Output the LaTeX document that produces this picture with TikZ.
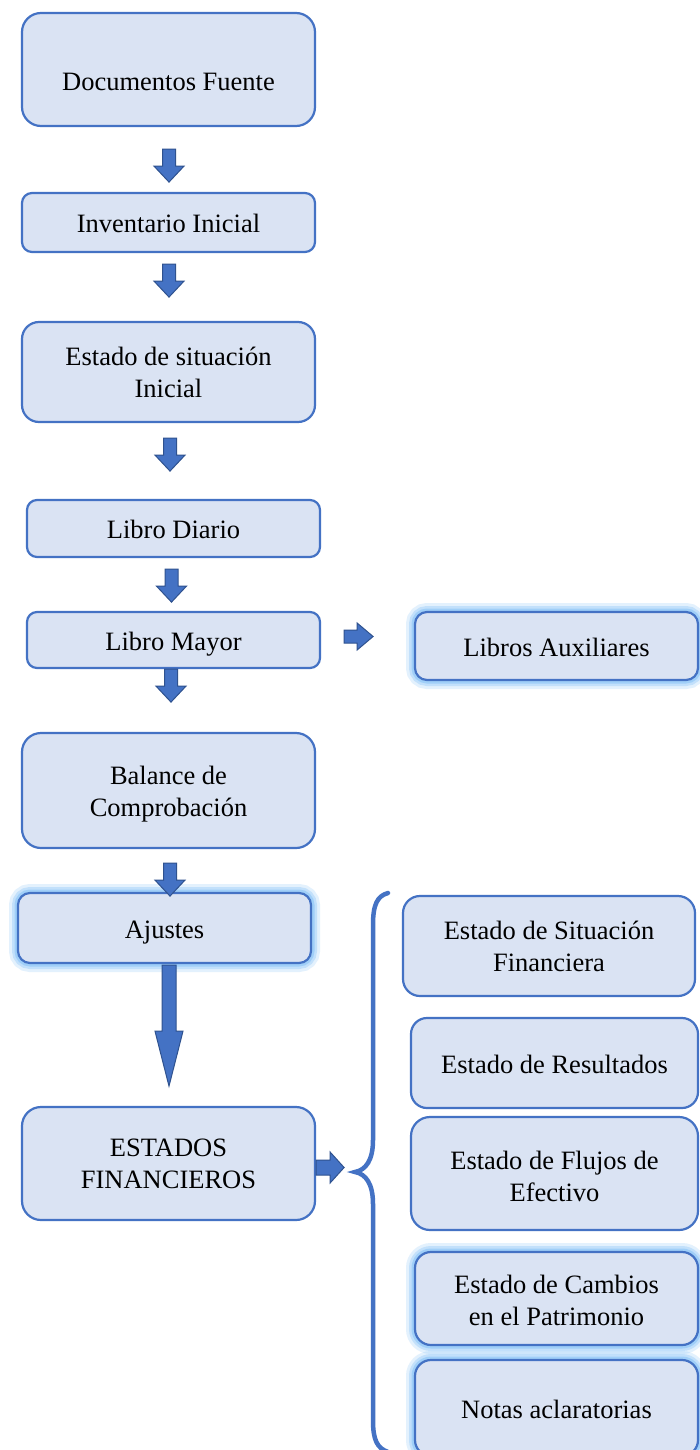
\documentclass[tikz,border=0pt]{standalone}
\usepackage{fontspec}
\setmainfont{Liberation Serif}
\usetikzlibrary{calc}
\definecolor{bblue}{HTML}{4472C4}
\definecolor{bfill}{HTML}{DAE3F3}
\definecolor{bdark}{HTML}{2F528F}
\definecolor{glowc}{HTML}{92C8F8}
\tikzset{
  flowbox/.style={draw=bblue, fill=bfill, line width=2.2pt, rounded corners=#1,
    align=center, inner sep=2pt, font=\fontsize{26.5}{32}\selectfont, text=black},
  flowbox/.default=12pt,
  oneline/.style={text height=20pt, text depth=0pt},
  glow/.style={
    preaction={draw=glowc, draw opacity=0.25, line width=18pt},
    preaction={draw=glowc, draw opacity=0.4, line width=12pt},
    preaction={draw=glowc, draw opacity=0.7, line width=7pt}},
  barrow/.style={fill=bblue, draw=bdark, line width=1pt, line join=miter},
  pics/sdown/.style={code={
    \draw[barrow] (-6.5,0) -- (6.5,0) -- (6.5,17) -- (15,17) -- (0,33) -- (-15,17) -- (-6.5,17) -- cycle;}},
  brace/.style={draw=bblue, line width=4.5pt, line cap=round},
}
\begin{document}
\begin{tikzpicture}[x=1pt, y=-1pt]
\fill[white] (0,0) rectangle (699,1450);
\useasboundingbox (0,0) rectangle (699,1450);

% left column
\node[flowbox=19pt, minimum width=293pt, minimum height=113pt, text height=42pt, text depth=0pt] (df) at (168.5,69.5) {Documentos Fuente};
\node[flowbox=10pt, oneline, minimum width=293pt, minimum height=59pt] (ii) at (168.5,222.5) {Inventario Inicial};
\node[flowbox=17pt, minimum width=293pt, minimum height=100pt] (es) at (168.5,372) {Estado de situación\\Inicial};
\node[flowbox=10pt, oneline, minimum width=293pt, minimum height=57pt] (ld) at (173.5,528.5) {Libro Diario};
\node[flowbox=10pt, oneline, minimum width=293pt, minimum height=56pt] (lm) at (173.5,640) {Libro Mayor};
\node[flowbox=12pt, oneline, glow, minimum width=283pt, minimum height=68pt] (la) at (556.5,646) {Libros Auxiliares};
\node[flowbox=19pt, minimum width=293pt, minimum height=115pt] (bc) at (168.5,790.5) {\rule{0pt}{26.5pt}Balance de\\Comprobación};
\node[flowbox=12pt, oneline, glow, minimum width=293pt, minimum height=70pt] (aj) at (164.5,928) {Ajustes};
\node[flowbox=19pt, minimum width=293pt, minimum height=113pt] (ef) at (168.5,1163.5) {ESTADOS\\FINANCIEROS};

% right column
\node[flowbox=17pt, minimum width=292pt, minimum height=100pt] (sf) at (549,946) {Estado de Situación\\Financiera};
\node[flowbox=16pt, oneline, minimum width=287pt, minimum height=90pt] (er) at (554.5,1063) {Estado de Resultados};
\node[flowbox=19pt, minimum width=287pt, minimum height=113pt] (fe) at (554.5,1173.5) {\rule{0pt}{24.5pt}Estado de Flujos de\\Efectivo};
\node[flowbox=16pt, glow, minimum width=283pt, minimum height=93pt] (cp) at (556.5,1298.5) {\rule{0pt}{22.5pt}Estado de Cambios\\en el Patrimonio};
\node[flowbox=16pt, oneline, glow, minimum width=283pt, minimum height=96pt] (na) at (556.5,1408) {Notas aclaratorias};

% down block arrows
\pic at ($(df.south)+(0.5,22)$) {sdown};
\pic at ($(ii.south)+(0.5,11)$) {sdown};
\pic at ($(es.south)+(1.5,15)$) {sdown};
\pic at ($(ld.south)+(-2,11)$) {sdown};
\pic at ($(lm.south)+(-2.5,0)$) {sdown};
\pic at ($(bc.south)+(1.5,14)$) {sdown};

% big arrow Ajustes -> Estados Financieros
\coordinate (bt) at ($(aj.south)+(4.5,1)$);
\draw[barrow] (bt) ++(-7,0) -- ++(14,0) -- ++(0,66) -- ++(7,0) -- ++(-14,55) -- ++(-14,-55) -- ++(7,0) -- cycle;

% right block arrows
\coordinate (r1) at ($(lm.east)+(23,-3.5)$);
\draw[barrow] (r1) ++(0,-6.5) -- ++(13,0) -- ++(0,-7) -- ++(16,13.5) -- ++(-16,13.5) -- ++(0,-7) -- ++(-13,0) -- cycle;
\coordinate (r2) at ($(ef.east)+(0,4)$);
\draw[barrow] (r2) ++(0,-7.5) -- ++(14,0) -- ++(0,-8) -- ++(14,15.5) -- ++(-14,15.5) -- ++(0,-8) -- ++(-14,0) -- cycle;

% brace
\coordinate (btip) at (355,1172);
\draw[brace] (388,893) .. controls (377,896) and (373,905) .. (373,925)
  -- (373,1140) .. controls (373,1160) and (366,1170) .. (btip)
  .. controls (366,1174) and (373,1184) .. (373,1204)
  -- (373,1420) .. controls (373,1440) and (377,1448) .. (388,1452);
\end{tikzpicture}
\end{document}
